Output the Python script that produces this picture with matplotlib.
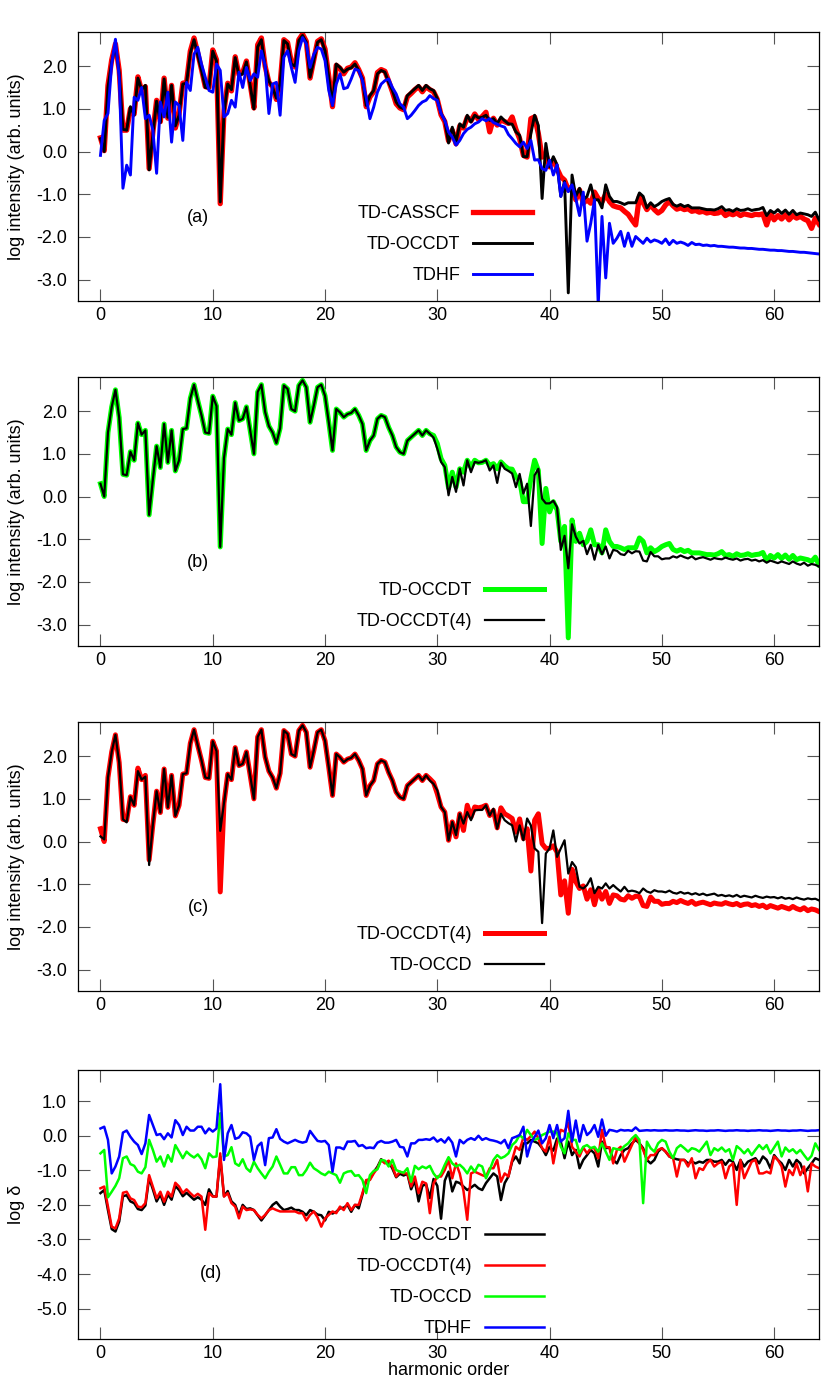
import numpy as np
import matplotlib
matplotlib.use("Agg")
import matplotlib.pyplot as plt
from matplotlib.lines import Line2D

plt.rcParams['font.family'] = ['Liberation Sans', 'DejaVu Sans']
plt.rcParams['axes.unicode_minus'] = False

# harmonic spectra, sampled every 1/3 harmonic from 0 to 64
occdt = [
    0.30, 0.00, 1.50, 2.10, 2.50, 1.85, 0.52, 0.50, 1.05, 0.85, 1.72, 1.45,
    1.55, -0.43, 0.40, 1.18, 0.68, 1.70, 0.80, 1.55, 0.60, 0.85, 1.58, 1.60,
    2.30, 2.62, 2.25, 1.90, 1.50, 1.48, 2.35, 2.12, -1.18, 0.90, 1.58, 1.45,
    2.20, 1.78, 1.82, 2.10, 1.55, 1.00, 2.45, 2.62, 1.98, 1.65, 1.50, 1.25,
    1.60, 2.60, 2.52, 2.05, 2.00, 2.60, 2.72, 2.56, 1.74, 2.13, 2.56, 2.62,
    2.36, 1.74, 1.08, 2.05, 1.97, 1.86, 1.93, 1.96, 2.05, 1.90, 1.70, 1.08,
    1.31, 1.43, 1.82, 1.90, 1.86, 1.62, 1.43, 1.16, 1.04, 1.00, 1.31, 1.39,
    1.47, 1.55, 1.43, 1.55, 1.47, 1.43, 1.24, 0.89, 0.73, 0.20, 0.57, 0.22,
    0.65, 0.57, 0.85, 0.69, 0.85, 0.79, 0.80, 0.85, 0.73, 0.77, 0.65, 0.81,
    0.72, 0.65, 0.64, 0.46, 0.38, -0.12, -0.12, 0.42, 0.85, 0.61, -1.10, 0.19,
    -0.36, -0.12, -0.31, -1.05, -0.70, -3.31, -0.55, -1.05, -0.86, -1.13, -1.05, -0.78,
    -1.13, -1.13, -1.32, -0.78, -1.05, -1.17, -1.17, -1.20, -1.24, -1.20, -1.20, -1.20,
    -0.97, -1.05, -1.32, -1.20, -1.29, -1.24, -1.17, -1.13, -1.10, -1.24, -1.28, -1.24,
    -1.29, -1.26, -1.32, -1.32, -1.32, -1.34, -1.36, -1.36, -1.37, -1.34, -1.29, -1.38,
    -1.36, -1.40, -1.34, -1.38, -1.37, -1.34, -1.38, -1.36, -1.35, -1.31, -1.50, -1.38,
    -1.44, -1.36, -1.45, -1.37, -1.47, -1.38, -1.48, -1.44, -1.46, -1.48, -1.52, -1.42, -1.60,
]

casscf = [
    0.32, 0.02, 1.55, 2.15, 2.52, 1.90, 0.50, 0.50, 1.00, 0.88, 1.75, 1.42,
    1.52, -0.40, 0.45, 1.20, 0.70, 1.72, 0.78, 1.55, 0.55, 0.88, 1.60, 1.62,
    2.35, 2.66, 2.30, 1.92, 1.52, 1.50, 2.38, 2.15, -1.22, 0.95, 1.60, 1.42,
    2.22, 1.80, 1.85, 2.12, 1.58, 1.02, 2.50, 2.66, 2.00, 1.62, 1.52, 1.22,
    1.58, 2.62, 2.55, 2.10, 1.98, 2.62, 2.75, 2.58, 1.72, 2.15, 2.58, 2.64,
    2.40, 1.76, 1.05, 2.02, 1.95, 1.82, 1.95, 1.98, 2.08, 1.92, 1.72, 1.05,
    1.28, 1.40, 1.85, 1.92, 1.88, 1.65, 1.40, 1.12, 1.02, 0.98, 1.28, 1.36,
    1.45, 1.52, 1.40, 1.52, 1.45, 1.40, 1.22, 0.86, 0.70, 0.25, 0.50, 0.18,
    0.60, 0.55, 0.80, 0.72, 0.88, 0.75, 0.82, 0.92, 0.46, 0.78, 0.62, 0.74,
    0.70, 0.66, 0.81, 0.52, 0.30, -0.09, -0.13, 0.77, 0.81, 0.42, -0.13, -0.05,
    -0.36, -0.20, -0.40, -0.59, -0.67, -0.90, -0.82, -1.13, -0.90, -1.21, -1.13, -1.21,
    -0.95, -1.10, -1.18, -1.00, -1.17, -1.27, -1.30, -1.32, -1.40, -1.47, -1.60, -1.72,
    -1.05, -1.20, -1.36, -1.25, -1.36, -1.44, -1.38, -1.25, -1.17, -1.27, -1.35, -1.32,
    -1.36, -1.34, -1.40, -1.38, -1.42, -1.40, -1.44, -1.42, -1.45, -1.44, -1.40, -1.50,
    -1.45, -1.48, -1.44, -1.50, -1.46, -1.48, -1.50, -1.47, -1.48, -1.46, -1.72, -1.45,
    -1.60, -1.50, -1.58, -1.48, -1.60, -1.50, -1.56, -1.52, -1.58, -1.62, -1.80, -1.56, -1.70,
]

tdhf = [
    -0.09, 0.73, 0.89, 2.05, 2.63, 1.74, -0.86, -0.32, -0.55, 1.27, 1.20, 1.50,
    0.77, 0.85, 0.50, -0.51, 1.16, 0.81, 1.39, 0.22, 1.16, 1.08, 0.26, 1.62,
    1.43, 2.28, 2.44, 2.05, 1.74, 1.43, 1.39, 2.05, 1.90, 0.81, 0.89, 1.20,
    1.04, 1.86, 1.50, 1.97, 1.66, 1.82, 1.74, 2.36, 2.01, 0.89, 1.58, 1.62,
    0.85, 2.21, 2.36, 1.97, 1.62, 2.36, 2.67, 2.52, 1.97, 2.28, 2.44, 2.40,
    2.13, 1.43, 1.08, 1.58, 1.82, 1.47, 1.50, 1.70, 1.93, 1.90, 1.66, 1.27,
    0.77, 1.04, 1.39, 1.58, 1.66, 1.70, 1.50, 1.35, 1.12, 1.04, 0.77, 0.85,
    0.96, 1.08, 1.16, 1.20, 1.31, 1.24, 1.20, 0.89, 0.73, 0.46, 0.34, 0.15,
    0.26, 0.42, 0.52, 0.57, 0.65, 0.69, 0.77, 0.72, 0.77, 0.68, 0.64, 0.60,
    0.57, 0.40, 0.30, 0.19, 0.11, 0.22, 0.07, 0.26, -0.20, -0.19, -0.40, -0.44,
    -0.20, -0.55, -0.31, -1.05, -0.73, -0.94, -0.78, -1.10, -1.50, -0.95, -2.10, -1.68,
    -1.13, -3.60, -1.52, -2.96, -1.68, -2.15, -2.03, -1.87, -2.22, -1.91, -2.22, -1.99,
    -2.07, -2.15, -2.03, -2.12, -2.07, -2.10, -2.15, -2.05, -2.18, -2.08, -2.15, -2.12,
    -2.15, -2.20, -2.13, -2.18, -2.17, -2.20, -2.19, -2.21, -2.20, -2.22, -2.22, -2.23,
    -2.24, -2.24, -2.25, -2.26, -2.26, -2.27, -2.27, -2.28, -2.29, -2.29, -2.30, -2.31,
    -2.31, -2.32, -2.32, -2.33, -2.34, -2.34, -2.35, -2.36, -2.36, -2.37, -2.38, -2.39, -2.40,
]

occdt4 = [
    0.30, 0.00, 1.50, 2.10, 2.50, 1.85, 0.52, 0.50, 1.05, 0.85, 1.72, 1.45,
    1.55, -0.43, 0.40, 1.18, 0.68, 1.70, 0.80, 1.55, 0.60, 0.85, 1.58, 1.60,
    2.30, 2.62, 2.25, 1.90, 1.50, 1.48, 2.35, 2.12, -1.18, 0.90, 1.58, 1.45,
    2.20, 1.78, 1.82, 2.10, 1.55, 1.00, 2.45, 2.62, 1.98, 1.65, 1.50, 1.25,
    1.60, 2.60, 2.52, 2.05, 2.00, 2.60, 2.72, 2.56, 1.74, 2.13, 2.56, 2.62,
    2.36, 1.74, 1.08, 2.05, 1.97, 1.86, 1.93, 1.96, 2.05, 1.90, 1.70, 1.08,
    1.31, 1.43, 1.82, 1.90, 1.86, 1.62, 1.43, 1.16, 1.04, 1.00, 1.31, 1.39,
    1.47, 1.55, 1.43, 1.55, 1.47, 1.38, 1.12, 0.81, 0.69, 0.03, 0.46, 0.11,
    0.65, 0.26, 0.85, 0.57, 0.81, 0.79, 0.81, 0.85, 0.61, 0.73, 0.32, 0.79,
    0.65, 0.60, 0.54, 0.22, 0.53, 0.07, 0.30, -0.69, 0.50, 0.65, -0.05, -0.16,
    -0.16, -0.10, -0.25, -1.25, -0.92, -1.68, -0.65, -0.94, -1.10, -1.04, -1.35, -1.13,
    -1.48, -1.13, -1.35, -1.17, -1.45, -1.25, -1.27, -1.35, -1.37, -1.27, -1.33, -1.28,
    -1.29, -1.50, -1.52, -1.30, -1.40, -1.40, -1.47, -1.45, -1.45, -1.40, -1.43, -1.38,
    -1.42, -1.45, -1.40, -1.47, -1.44, -1.42, -1.45, -1.48, -1.44, -1.46, -1.47, -1.43,
    -1.46, -1.48, -1.45, -1.50, -1.47, -1.46, -1.50, -1.48, -1.52, -1.49, -1.55, -1.50,
    -1.53, -1.56, -1.52, -1.55, -1.58, -1.52, -1.57, -1.60, -1.55, -1.62, -1.58, -1.60, -1.64,
]

occd = [
    0.12, 0.05, 1.50, 2.10, 2.50, 1.85, 0.52, 0.45, 1.05, 0.85, 1.65, 1.45,
    1.52, -0.55, 0.40, 1.18, 0.68, 1.70, 0.80, 1.55, 0.60, 0.85, 1.58, 1.60,
    2.30, 2.62, 2.25, 1.90, 1.50, 1.48, 2.35, 2.12, 0.25, 0.90, 1.58, 1.45,
    2.20, 1.78, 1.82, 2.10, 1.55, 1.00, 2.45, 2.62, 1.98, 1.65, 1.50, 1.25,
    1.60, 2.60, 2.52, 2.05, 2.00, 2.60, 2.72, 2.56, 1.74, 2.13, 2.56, 2.62,
    2.36, 1.74, 1.08, 2.05, 1.97, 1.86, 1.93, 1.96, 2.05, 1.90, 1.70, 1.08,
    1.31, 1.43, 1.82, 1.90, 1.86, 1.62, 1.43, 1.16, 1.04, 1.00, 1.31, 1.39,
    1.47, 1.55, 1.43, 1.55, 1.43, 1.35, 1.20, 0.81, 0.69, 0.03, 0.46, 0.15,
    0.65, 0.42, 0.69, 0.50, 0.73, 0.74, 0.74, 0.85, 0.61, 0.77, 0.30, 0.65,
    0.50, 0.43, 0.38, 0.00, 0.38, 0.03, 0.54, 0.38, -0.16, -0.24, -1.91, -0.28,
    -0.16, 0.26, -0.36, -0.16, 0.03, -0.75, -0.48, -0.60, -1.06, -1.10, -1.02, -0.86,
    -1.21, -1.06, -1.10, -0.98, -1.10, -1.02, -1.10, -1.17, -1.06, -1.17, -1.15, -1.17,
    -1.21, -1.10, -1.17, -1.20, -1.14, -1.17, -1.17, -1.19, -1.15, -1.20, -1.22, -1.18,
    -1.22, -1.20, -1.24, -1.21, -1.25, -1.22, -1.26, -1.24, -1.22, -1.27, -1.25, -1.28,
    -1.26, -1.29, -1.25, -1.30, -1.27, -1.29, -1.31, -1.27, -1.30, -1.32, -1.29, -1.31,
    -1.30, -1.33, -1.30, -1.34, -1.32, -1.35, -1.31, -1.34, -1.36, -1.33, -1.35, -1.34, -1.38,
]

# log of the deviation delta from TD-CASSCF
d_occdt = [
    -1.66, -1.57, -2.15, -2.70, -2.77, -2.48, -1.75, -1.72, -1.90, -1.95, -2.12, -2.15,
    -2.02, -1.22, -1.55, -1.90, -1.70, -2.00, -1.70, -1.85, -1.45, -1.57, -1.75, -1.65,
    -1.75, -1.85, -1.78, -1.85, -2.00, -1.55, -1.75, -1.76, -0.60, -1.75, -1.60, -1.90,
    -2.00, -2.30, -2.00, -2.12, -2.10, -2.15, -2.30, -2.45, -2.30, -2.15, -2.00, -1.92,
    -2.05, -2.15, -2.12, -2.08, -2.15, -2.15, -2.20, -2.30, -2.15, -2.20, -2.28, -2.30,
    -2.45, -2.20, -2.25, -2.20, -2.10, -2.08, -2.00, -2.20, -2.00, -2.10, -1.70, -1.30,
    -1.25, -1.05, -0.90, -0.68, -0.78, -0.75, -0.95, -1.20, -1.10, -1.15, -1.10, -1.55,
    -1.30, -1.90, -1.45, -1.40, -1.80, -1.25, -1.45, -2.40, -1.30, -1.04, -1.61, -1.33,
    -1.37, -1.47, -1.57, -1.50, -1.42, -1.52, -1.57, -1.37, -1.23, -1.09, -1.18, -1.86,
    -1.37, -1.18, -0.75, -0.60, -0.80, -0.22, -0.22, -0.12, -0.17, -0.22, -0.36, -0.56,
    -0.32, -0.43, -0.08, -0.17, -0.65, -0.17, -0.56, -0.41, -0.94, -0.70, -0.56, -0.41,
    -0.51, -0.89, -0.17, -0.36, -0.34, -0.70, -0.80, -0.56, -0.41, -0.36, -0.22, -0.12,
    -0.22, -0.36, -0.70, -0.80, -0.70, -0.46, -0.36, -0.46, -0.60, -0.65, -0.68, -0.70,
    -0.70, -0.80, -0.75, -0.80, -0.75, -0.78, -0.70, -0.70, -0.75, -0.75, -0.70, -0.84,
    -0.70, -0.75, -0.99, -0.70, -0.89, -0.75, -0.70, -0.65, -0.80, -0.60, -0.70, -0.94,
    -0.56, -0.70, -0.80, -0.99, -0.70, -0.89, -0.70, -0.80, -1.09, -0.94, -0.80, -0.65, -0.70,
]

d_occdt4 = [
    -1.52, -1.47, -2.05, -2.63, -2.68, -2.39, -1.65, -1.62, -1.81, -1.86, -2.05, -2.07,
    -1.95, -1.14, -1.47, -1.81, -1.62, -1.91, -1.62, -1.76, -1.36, -1.47, -1.66, -1.55,
    -1.66, -1.76, -1.68, -1.76, -2.72, -1.66, -1.76, -1.76, -0.51, -1.76, -1.66, -1.95,
    -2.05, -2.39, -2.05, -2.15, -2.13, -2.15, -2.29, -2.39, -2.29, -2.15, -2.10, -2.15,
    -2.19, -2.19, -2.19, -2.19, -2.19, -2.24, -2.24, -2.45, -2.29, -2.19, -2.36, -2.63,
    -2.39, -2.29, -2.19, -2.24, -2.05, -2.15, -1.95, -2.15, -2.00, -2.00, -1.66, -1.28,
    -1.28, -1.09, -0.94, -0.70, -0.80, -0.72, -0.89, -1.18, -1.04, -1.09, -1.09, -1.47,
    -1.18, -1.66, -1.33, -1.38, -2.24, -1.38, -1.18, -1.18, -0.99, -0.70, -1.23, -0.80,
    -1.09, -1.60, -2.43, -1.09, -1.04, -1.09, -1.14, -1.18, -0.94, -0.94, -0.70, -1.33,
    -1.09, -1.18, -0.70, -0.32, -0.41, -0.05, -0.12, -0.01, 0.12, -0.08, -0.36, -0.46,
    -0.03, -0.80, -0.22, 0.17, 0.12, 0.38, -0.32, -0.46, -0.60, -0.34, -0.51, -0.36,
    -0.36, -0.65, 0.17, -0.32, -0.34, -0.80, -0.41, -0.32, -0.75, -0.51, -0.27, -0.03,
    -0.22, -0.41, -0.70, -0.56, -0.56, -0.41, -0.36, -0.46, -0.60, -0.65, -1.18, -0.70,
    -0.70, -0.89, -0.65, -1.23, -0.94, -0.99, -0.80, -0.70, -0.89, -0.80, -0.75, -1.23,
    -0.89, -0.80, -2.00, -0.70, -1.23, -0.99, -0.75, -0.70, -1.09, -1.09, -1.04, -1.09,
    -0.60, -0.70, -0.89, -1.47, -0.99, -1.14, -0.80, -1.14, -0.89, -1.61, -0.80, -0.89, -0.94,
]

d_occd = [
    -0.51, -0.41, -1.78, -1.62, -1.45, -1.23, -0.65, -0.60, -0.82, -0.87, -1.04, -1.09,
    -0.91, -0.12, -0.41, -0.75, -0.60, -0.89, -0.56, -0.75, -0.27, -0.46, -0.65, -0.46,
    -0.56, -0.63, -0.54, -0.68, -0.94, -0.51, -0.62, -0.60, 0.65, -0.60, -0.56, -0.33,
    -0.80, -0.87, -0.68, -0.94, -1.04, -0.75, -0.94, -1.09, -1.23, -1.04, -0.89, -0.60,
    -0.84, -1.09, -1.09, -0.91, -0.91, -1.14, -1.14, -0.99, -0.78, -0.94, -1.01, -1.09,
    -1.14, -1.04, -1.09, -1.14, -1.36, -1.09, -1.04, -1.02, -1.16, -1.14, -1.28, -1.66,
    -1.14, -1.02, -0.97, -0.70, -0.72, -0.89, -0.70, -0.99, -1.04, -1.07, -0.94, -1.33,
    -0.87, -0.97, -0.89, -0.94, -0.87, -1.09, -1.23, -1.09, -0.84, -0.62, -0.80, -0.89,
    -0.84, -0.94, -1.09, -0.89, -1.04, -0.84, -0.89, -1.23, -0.99, -0.70, -0.56, -0.65,
    -0.60, -0.51, -0.27, -0.17, 0.02, -0.08, 0.17, 0.02, -0.12, -0.08, 0.02, 0.07,
    0.12, 0.12, 0.09, -0.32, -0.51, 0.07, -0.12, -0.12, -0.51, -0.32, -0.27, -0.36,
    -0.32, -0.46, -0.22, -0.46, -0.70, -0.36, -0.39, -0.41, -0.30, -0.22, -0.08, 0.02,
    -0.12, -1.95, -0.17, -0.36, -0.46, -0.22, -0.12, -0.17, -0.46, -0.65, -0.36, -0.27,
    -0.36, -0.46, -0.36, -0.39, -0.46, -0.32, -0.17, -0.56, -0.36, -0.43, -0.34, -0.46,
    -0.39, -0.70, -0.30, -0.39, -0.51, -0.39, -0.56, -0.41, -0.27, -0.39, -0.27, -0.51,
    -0.34, -0.17, -0.60, -0.34, -0.46, -0.39, -0.51, -0.41, -0.56, -0.70, -0.58, -0.22, -0.41,
]

d_tdhf = [
    0.21, 0.26, -0.12, -1.09, -0.89, -0.60, 0.09, 0.15, -0.03, -0.17, -0.27, -0.53,
    -0.22, 0.60, 0.31, 0.02, 0.05, -0.10, 0.07, -0.05, 0.45, 0.31, 0.02, 0.26,
    0.15, 0.15, 0.26, 0.26, 0.07, 0.21, 0.12, 0.21, 1.49, -0.70, 0.07, 0.31,
    -0.09, -0.05, 0.10, 0.07, -0.03, -0.70, -0.30, -0.20, -0.85, -0.07, -0.05, 0.19,
    -0.09, -0.17, -0.22, -0.17, -0.12, -0.17, -0.20, -0.17, 0.14, -0.01, -0.15, -0.17,
    -0.15, -0.27, -1.04, -0.34, -0.34, -0.39, -0.17, -0.17, -0.15, -0.30, -0.27, -0.36,
    -0.34, -0.36, -0.20, -0.15, -0.20, -0.20, -0.17, -0.12, -0.32, -0.34, -0.60, -0.22,
    -0.22, -0.12, -0.12, -0.10, -0.12, -0.05, -0.17, -0.10, -0.20, -0.05, -0.20, -0.60,
    -0.12, -0.22, -0.12, -0.07, -0.12, 0.00, -0.12, -0.07, -0.12, -0.14, -0.17, -0.22,
    -0.12, -0.36, -0.07, -0.03, 0.02, 0.26, -0.60, -0.22, -0.03, 0.15, -0.22, -0.07,
    0.31, -0.07, 0.31, -0.17, -0.07, 0.72, -0.17, 0.44, -0.17, 0.31, 0.02, 0.12,
    0.31, -0.03, 0.47, 0.00, 0.17, 0.15, 0.12, 0.17, 0.15, 0.16, 0.14, 0.24,
    0.14, 0.15, 0.16, 0.15, 0.16, 0.15, 0.15, 0.16, 0.15, 0.15, 0.16, 0.15,
    0.15, 0.14, 0.15, 0.16, 0.15, 0.15, 0.14, 0.15, 0.15, 0.16, 0.15, 0.14,
    0.15, 0.15, 0.16, 0.15, 0.15, 0.14, 0.15, 0.15, 0.16, 0.15, 0.15, 0.14,
    0.15, 0.16, 0.15, 0.15, 0.14, 0.15, 0.15, 0.16, 0.15, 0.14, 0.15, 0.15, 0.16,
]

spec_ticks = [2, 1, 0, -1, -2, -3]
delta_ticks = [1, 0, -1, -2, -3, -4, -5]
x_ticks = [0, 10, 20, 30, 40, 50, 60]

RED, BLACK, BLUE, GREEN = '#ff0000', '#000000', '#0000ff', '#00ff00'


def harm(y):
    return np.arange(len(y)) / 3.0


def style(ax, yticks, ylim):
    ax.set_xlim(-2, 64)
    ax.set_ylim(*ylim)
    ax.set_xticks(x_ticks)
    ax.set_yticks(yticks)
    ax.set_yticklabels([f"{v:.1f}" for v in yticks])
    ax.tick_params(direction='in', length=8.5, width=0.8, color='#555555',
                   top=True, right=True, labelsize=13)
    ax.tick_params(axis='y', pad=8)
    ax.tick_params(axis='x', pad=4)
    for s in ax.spines.values():
        s.set_linewidth(0.9)
        s.set_color('black')


def key(ax, entries, anchor):
    handles = [Line2D([], [], color=c, lw=w) for _, c, w in entries]
    labels = [t for t, _, _ in entries]
    ax.legend(handles, labels, loc='upper right', bbox_to_anchor=anchor,
              markerfirst=False, frameon=False, fontsize=13, handlelength=3.3,
              handletextpad=0.7, labelspacing=0.78, borderpad=0,
              borderaxespad=0)


fig = plt.figure(figsize=(8.3, 13.85), dpi=100)
L, W, H = 0.094, 0.8928, 0.1942
ax_a = fig.add_axes([L, 0.7827, W, H])
ax_b = fig.add_axes([L, 0.5336, W, H])
ax_c = fig.add_axes([L, 0.2845, W, H])
ax_d = fig.add_axes([L, 0.0332, W, H])

# (a)
ax_a.plot(harm(casscf), casscf, color=RED, lw=3.8)
ax_a.plot(harm(occdt), occdt, color=BLACK, lw=2.1)
ax_a.plot(harm(tdhf), tdhf, color=BLUE, lw=2.1)
style(ax_a, spec_ticks, (-3.5, 2.8))
key(ax_a, [('TD-CASSCF', RED, 3.8), ('TD-OCCDT', BLACK, 2.1), ('TDHF', BLUE, 2.1)],
    (0.613, 0.357))
ax_a.text(0.162, 0.309, '(a)', transform=ax_a.transAxes, fontsize=13,
          ha='center', va='center')

# (b)
ax_b.plot(harm(occdt), occdt, color=GREEN, lw=3.6)
ax_b.plot(harm(occdt4), occdt4, color=BLACK, lw=1.6)
style(ax_b, spec_ticks, (-3.5, 2.8))
key(ax_b, [('TD-OCCDT', GREEN, 3.6), ('TD-OCCDT(4)', BLACK, 1.6)], (0.629, 0.238))
ax_b.text(0.162, 0.309, '(b)', transform=ax_b.transAxes, fontsize=13,
          ha='center', va='center')

# (c)
ax_c.plot(harm(occdt4), occdt4, color=RED, lw=3.6)
ax_c.plot(harm(occd), occd, color=BLACK, lw=1.6)
style(ax_c, spec_ticks, (-3.5, 2.8))
key(ax_c, [('TD-OCCDT(4)', RED, 3.6), ('TD-OCCD', BLACK, 1.6)], (0.629, 0.242))
ax_c.text(0.162, 0.309, '(c)', transform=ax_c.transAxes, fontsize=13,
          ha='center', va='center')

# (d)
ax_d.plot(harm(d_occdt), d_occdt, color=BLACK, lw=1.8)
ax_d.plot(harm(d_occdt4), d_occdt4, color=RED, lw=1.8)
ax_d.plot(harm(d_occd), d_occd, color=GREEN, lw=1.8)
ax_d.plot(harm(d_tdhf), d_tdhf, color=BLUE, lw=1.8)
style(ax_d, delta_ticks, (-5.88, 1.9))
key(ax_d, [('TD-OCCDT', BLACK, 1.8), ('TD-OCCDT(4)', RED, 1.8),
           ('TD-OCCD', GREEN, 1.8), ('TDHF', BLUE, 1.8)], (0.629, 0.416))
ax_d.text(0.18, 0.245, '(d)', transform=ax_d.transAxes, fontsize=13,
          ha='center', va='center')

for ax in (ax_a, ax_b, ax_c):
    ax.set_ylabel('log intensity (arb. units)', fontsize=13)
    ax.yaxis.set_label_coords(-0.071, 0.5)
ax_d.set_ylabel('log δ', fontsize=13)
ax_d.yaxis.set_label_coords(-0.071, 0.5)
ax_d.set_xlabel('harmonic order', fontsize=13, labelpad=0)

fig.savefig('out.png', dpi=100)
